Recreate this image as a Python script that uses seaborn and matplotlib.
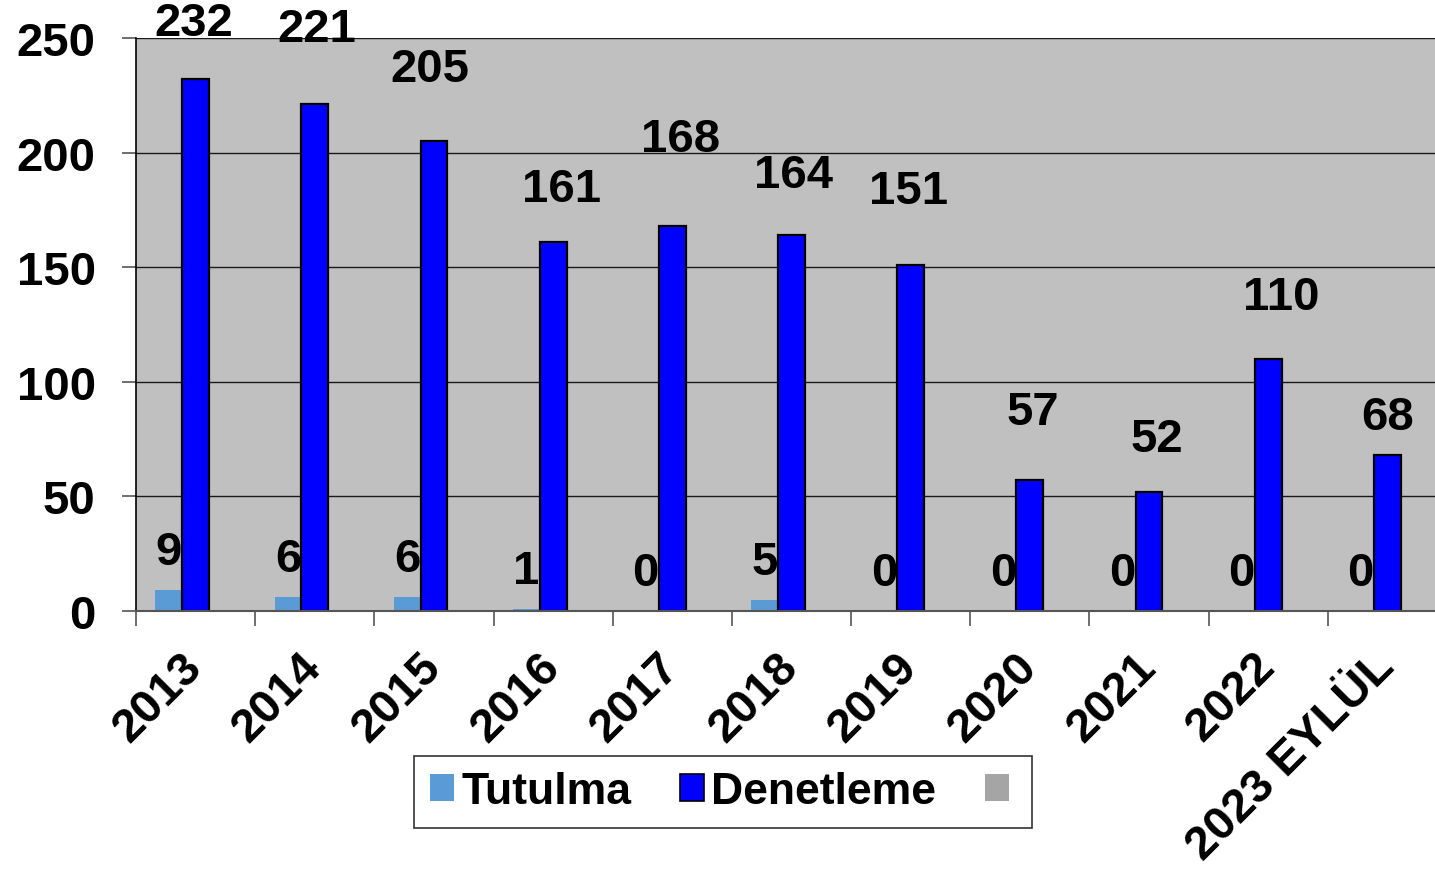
import numpy as np
import pandas as pd
import matplotlib
matplotlib.use("Agg")
import matplotlib.pyplot as plt
import matplotlib.patches as mpatches
from matplotlib.ticker import FixedLocator
import seaborn as sns

# veri
yillar = ["2013", "2014", "2015", "2016", "2017", "2018", "2019", "2020", "2021", "2022", "2023 EYLÜL"]
tutulma = [9, 6, 6, 1, 0, 5, 0, 0, 0, 0, 0]
denetleme = [232, 221, 205, 161, 168, 164, 151, 57, 52, 110, 68]
ucuncu = [0, 0, 0, 0, 0, 0, 0, 0, 0, 0, 0]
seriler = ["Tutulma", "Denetleme", "Diger"]
renkler = ["#5b9bd5", "#0000ff", "#a5a5a5"]

# denetleme etiketlerinin el ile kaydirmalari (piksel)
etiket_dx = [-2, 2, -4, 8, 8, 2, -2, 3, 8, 13, 0]
etiket_dy = [56, 75, 72, 53, 87, 60, 74, 68, 53, 62, 38]

df = pd.DataFrame({
    "yil": yillar * 3,
    "seri": [seriler[0]] * 11 + [seriler[1]] * 11 + [seriler[2]] * 11,
    "deger": tutulma + denetleme + ucuncu,
})

sns.set_theme(style="white")
plt.rcParams["font.family"] = ["Liberation Sans", "DejaVu Sans"]
plt.rcParams["font.weight"] = "bold"
plt.rcParams["text.color"] = "black"
plt.rcParams["xtick.color"] = "black"
plt.rcParams["ytick.color"] = "black"
fs = 34

fig = plt.figure(figsize=(14.35, 8.7), dpi=100)
ax = fig.add_axes([136 / 1435, 1 - 612 / 870, 1311 / 1435, 573 / 870])
ax.set_facecolor("#c0c0c0")

sns.barplot(data=df, x="yil", y="deger", hue="seri", order=yillar, hue_order=seriler,
            palette=renkler, width=0.675, gap=0, saturation=1, legend=False, ax=ax,
            linewidth=0, errorbar=None)

# denetleme cubuklarina siyah kenar
n = len(yillar)
for i, p in enumerate(ax.patches[:3 * n]):
    if n <= i < 2 * n:
        p.set_edgecolor("black")
        p.set_linewidth(1.6)

ax.set_xlim(-0.5, n - 0.5)
ax.set_ylim(0, 250)
ax.set_yticks([0, 50, 100, 150, 200, 250])
ax.yaxis.grid(True, color="#1a1a1a", linewidth=1)
ax.set_axisbelow(True)
ax.set_xlabel("")
ax.set_ylabel("")

for s in ["top", "right"]:
    ax.spines[s].set_visible(False)
ax.spines["left"].set_color("black")
ax.spines["left"].set_linewidth(1.2)
ax.spines["bottom"].set_color("#555555")
ax.spines["bottom"].set_linewidth(1.5)

ax.tick_params(axis="y", left=True, length=10, width=1.2, color="#555555", pad=19,
               labelsize=fs, labelcolor="black")
ax.xaxis.set_minor_locator(FixedLocator(np.arange(-0.5, n, 1.0)))
ax.tick_params(axis="x", which="minor", bottom=True, length=11, width=1.2, color="#555555")
ax.tick_params(axis="x", which="major", bottom=False, length=0, pad=35, labelsize=fs,
               labelcolor="black")
ax.set_xticks(range(n))
ax.set_xticklabels(yillar, rotation=45, ha="right", va="center", rotation_mode="anchor",
                   fontweight="bold")
for t in ax.get_yticklabels():
    t.set_fontweight("bold")

# etiketler
w = 0.225
for i in range(n):
    ax.annotate(str(tutulma[i]), (i - w, tutulma[i]), xytext=(0, 38),
                textcoords="offset pixels", ha="center", va="center",
                fontsize=fs, fontweight="bold", color="black")
    ax.annotate(str(denetleme[i]), (i, denetleme[i]), xytext=(etiket_dx[i], etiket_dy[i]),
                textcoords="offset pixels", ha="center", va="center",
                fontsize=fs, fontweight="bold", color="black", annotation_clip=False)

# lejant
kutular = [mpatches.Patch(facecolor=renkler[0], edgecolor="none"),
           mpatches.Patch(facecolor=renkler[1], edgecolor="black", linewidth=1.2),
           mpatches.Patch(facecolor=renkler[2], edgecolor="none")]
leg = fig.legend(kutular, ["Tutulma", "Denetleme", ""], loc="center",
                 bbox_to_anchor=(723 / 1435, 1 - 793 / 870), ncol=3, fontsize=32,
                 frameon=True, fancybox=False, handlelength=0.55, handleheight=0.55,
                 handletextpad=0.15, columnspacing=1.1, borderpad=0.35, borderaxespad=0)
leg.get_frame().set_edgecolor("black")
leg.get_frame().set_linewidth(1.2)
for t in leg.get_texts():
    t.set_fontweight("bold")
    t.set_color("black")

fig.savefig("out.png", dpi=100)
